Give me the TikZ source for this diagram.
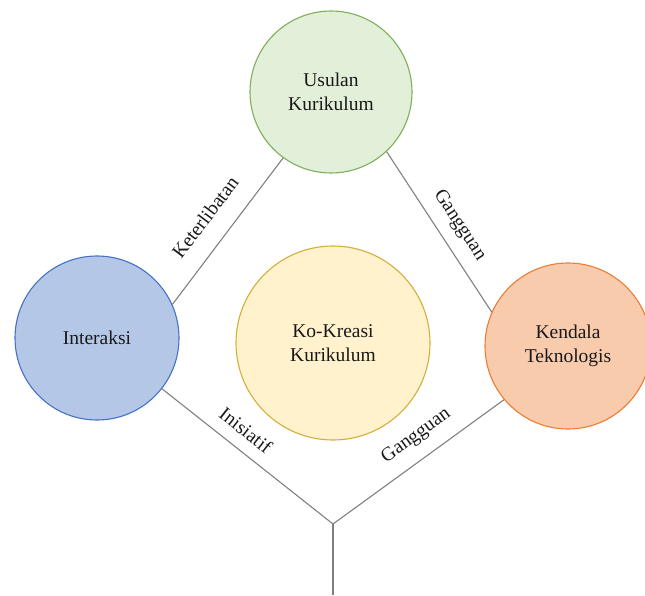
\documentclass[tikz,border=0pt]{standalone}
\usepackage{fontspec}
\setmainfont{Liberation Serif}
\definecolor{usulanfill}{HTML}{E2EFD9}
\definecolor{usulanline}{HTML}{7FAF5A}
\definecolor{interfill}{HTML}{B4C7E7}
\definecolor{interline}{HTML}{4472C4}
\definecolor{kendalafill}{HTML}{F8CBAD}
\definecolor{kendalaline}{HTML}{ED7D31}
\definecolor{kkfill}{HTML}{FFF2CC}
\definecolor{kkline}{HTML}{D4AE3A}
\definecolor{linkgray}{HTML}{808080}
\begin{document}
\begin{tikzpicture}[x=1pt, y=1pt, font=\fontsize{19.5}{23.5}\selectfont, text=black!90,
    main/.style = {draw, circle, align=center, line width=1.1pt, inner sep=0pt},
    link/.style = {draw=linkgray, line width=1.1pt},
    tag/.style = {sloped, inner sep=0pt}]
    \useasboundingbox (0,0) rectangle (645,595);
    \node[main, fill=usulanfill, draw=usulanline, minimum size=162pt] (usulan) at (331,503) {Usulan\\Kurikulum};
    \node[main, fill=interfill, draw=interline, minimum size=164pt] (interaksi) at (97,257) {Interaksi};
    \node[main, fill=kendalafill, draw=kendalaline, minimum size=166pt] (kendala) at (568,249) {Kendala\\Teknologis};
    \node[main, fill=kkfill, draw=kkline, minimum size=194pt] (kokreasi) at (333,252) {Ko-Kreasi\\Kurikulum};
    \coordinate (j) at (333,71);
    \coordinate (b) at (333,0);
    \draw[link] (interaksi.24) to node[tag, pos=0.485, above=19pt] {Keterlibatan} (usulan.234);
    \draw[link] (usulan.-47) to node[tag, pos=0.53, above=11.5pt] {Gangguan} (kendala.156.6);
    \draw[link] (interaksi.-38.6) to node[tag, pos=0.42, above=12pt] {Inisiatif} (j);
    \draw[link] (j) to node[tag, pos=0.563, above=13pt] {Gangguan} (kendala.-140.5);
    \draw[link] (j) to (b);
\end{tikzpicture}
\end{document}
